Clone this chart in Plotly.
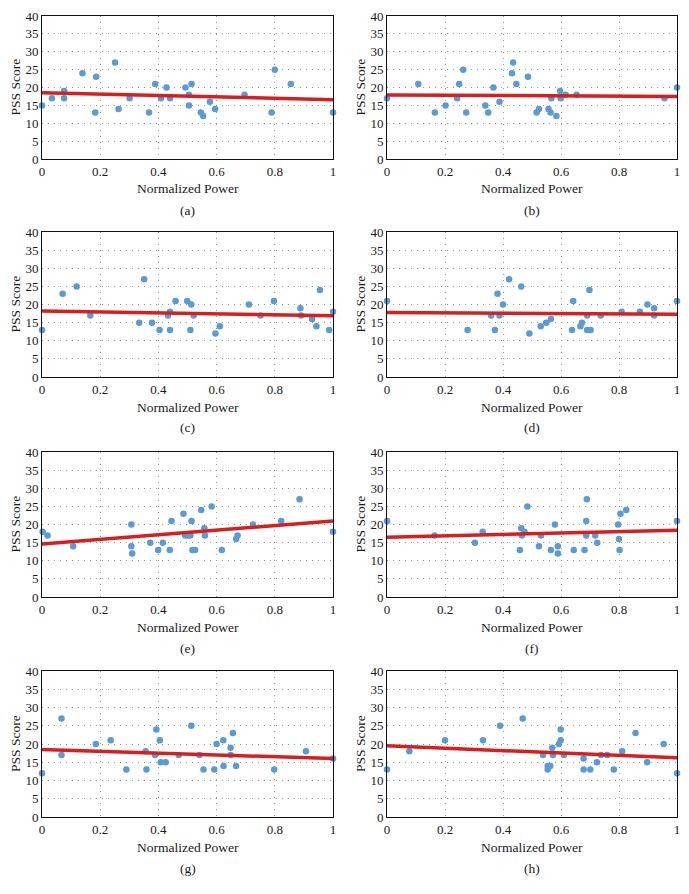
"""PSS score vs normalized power, eight scatter panels with linear fits."""

import plotly.graph_objects as go

X_TICKS = [0, 0.2, 0.4, 0.6, 0.8, 1]
X_TICK_LABELS = ["0", "0.2", "0.4", "0.6", "0.8", "1"]
Y_TICKS = [0, 5, 10, 15, 20, 25, 30, 35, 40]

# (a)
X_A = [0.0, 0.034, 0.076, 0.076, 0.139, 0.183, 0.186, 0.251, 0.263, 0.301,
       0.368, 0.389, 0.409, 0.428, 0.44, 0.493, 0.505, 0.505, 0.514, 0.546,
       0.554, 0.577, 0.595, 0.696, 0.789, 0.8, 0.855, 1.0]
Y_A = [15, 17, 19, 17, 24, 13, 23, 27, 14, 17,
       13, 21, 17, 20, 17, 20, 18, 15, 21, 13,
       12, 16, 14, 18, 13, 25, 21, 13]
FIT_A = [18.5, 16.6]

# (b)
X_B = [0.0, 0.108, 0.165, 0.202, 0.242, 0.249, 0.263, 0.273, 0.339, 0.349,
       0.367, 0.388, 0.431, 0.435, 0.446, 0.486, 0.516, 0.524, 0.557, 0.564,
       0.567, 0.584, 0.597, 0.599, 0.616, 0.654, 0.957, 1.0]
Y_B = [17, 21, 13, 15, 17, 21, 25, 13, 15, 13,
       20, 16, 24, 27, 21, 23, 13, 14, 14, 13,
       17, 12, 19, 17, 18, 18, 17, 20]
FIT_B = [17.9, 17.5]

# (c)
X_C = [0.0, 0.071, 0.119, 0.166, 0.334, 0.351, 0.378, 0.404, 0.433, 0.44,
       0.44, 0.459, 0.499, 0.51, 0.513, 0.521, 0.596, 0.611, 0.711, 0.751,
       0.797, 0.888, 0.89, 0.928, 0.943, 0.955, 0.987, 1.0]
Y_C = [13, 23, 25, 17, 15, 27, 15, 13, 17, 18,
       13, 21, 21, 13, 20, 17, 12, 14, 20, 17,
       21, 19, 17, 16, 14, 24, 13, 18]
FIT_C = [18.2, 16.9]

# (d)
X_D = [0.0, 0.278, 0.359, 0.372, 0.381, 0.388, 0.4, 0.421, 0.463, 0.491,
       0.53, 0.549, 0.565, 0.638, 0.642, 0.667, 0.672, 0.69, 0.69, 0.698,
       0.702, 0.737, 0.809, 0.872, 0.898, 0.921, 0.921, 1.0]
Y_D = [21, 13, 17, 13, 23, 17, 20, 27, 25, 12,
       14, 15, 16, 13, 21, 14, 15, 17, 13, 24,
       13, 17, 18, 18, 20, 19, 17, 21]
FIT_D = [17.8, 17.3]

# (e)
X_E = [0.002, 0.019, 0.107, 0.307, 0.307, 0.31, 0.372, 0.399, 0.415, 0.439,
       0.445, 0.486, 0.492, 0.501, 0.51, 0.514, 0.517, 0.526, 0.547, 0.558,
       0.56, 0.583, 0.618, 0.667, 0.672, 0.725, 0.822, 0.885, 1.0]
Y_E = [18, 17, 14, 20, 14, 12, 15, 13, 15, 13,
       21, 23, 17, 17, 17, 21, 13, 13, 24, 19,
       17, 25, 13, 16, 17, 20, 21, 27, 18]
FIT_E = [14.6, 21.0]

# (f)
X_F = [0.0, 0.164, 0.303, 0.33, 0.458, 0.463, 0.465, 0.474, 0.484, 0.524,
       0.531, 0.565, 0.579, 0.589, 0.589, 0.644, 0.681, 0.687, 0.687, 0.689,
       0.718, 0.725, 0.797, 0.8, 0.802, 0.805, 0.825, 1.0]
Y_F = [21, 17, 15, 18, 13, 19, 17, 18, 25, 14,
       17, 13, 20, 14, 12, 13, 13, 21, 17, 27,
       17, 15, 20, 16, 13, 23, 24, 21]
FIT_F = [16.5, 18.4]

# (g)
X_G = [0.0, 0.067, 0.067, 0.185, 0.236, 0.29, 0.356, 0.359, 0.388, 0.393,
       0.405, 0.408, 0.425, 0.47, 0.513, 0.541, 0.555, 0.592, 0.6, 0.623,
       0.624, 0.648, 0.648, 0.656, 0.667, 0.798, 0.907, 1.0]
Y_G = [12, 27, 17, 20, 21, 13, 18, 13, 17, 24,
       21, 15, 15, 17, 25, 17, 13, 13, 20, 21,
       14, 19, 17, 23, 14, 13, 18, 16]
FIT_G = [18.5, 16.0]

# (h)
X_H = [0.0, 0.077, 0.2, 0.331, 0.39, 0.468, 0.538, 0.554, 0.554, 0.563,
       0.57, 0.572, 0.593, 0.599, 0.599, 0.61, 0.678, 0.678, 0.701, 0.724,
       0.738, 0.759, 0.782, 0.811, 0.857, 0.897, 0.954, 1.0]
Y_H = [13, 18, 21, 21, 25, 27, 17, 14, 13, 14,
       19, 17, 20, 21, 24, 17, 16, 13, 13, 15,
       17, 17, 13, 18, 23, 15, 20, 12]
FIT_H = [19.5, 16.2]

PANELS = [
    ("(a)", X_A, Y_A, FIT_A),
    ("(b)", X_B, Y_B, FIT_B),
    ("(c)", X_C, Y_C, FIT_C),
    ("(d)", X_D, Y_D, FIT_D),
    ("(e)", X_E, Y_E, FIT_E),
    ("(f)", X_F, Y_F, FIT_F),
    ("(g)", X_G, Y_G, FIT_G),
    ("(h)", X_H, Y_H, FIT_H),
]

# page body has an 8px margin, so the figure is shrunk and coords shifted by it
PAGE_PAD = 8
W, H = 689 - 2 * PAGE_PAD, 894 - 2 * PAGE_PAD
COL_X = [(42, 333), (387, 677)]          # plot left/right, page px
ROW_Y = [(16, 159), (232, 377), (452, 597), (671, 817)]  # plot top/bottom, page px


def px_x(p):
    return (p - PAGE_PAD) / W


def px_y(p):
    return 1 - (p - PAGE_PAD) / H


FONT = "Liberation Serif, Times New Roman, DejaVu Serif, serif"
DOT_COLOR = "#5b9bd5"
FIT_COLOR = "#d81e1e"
TEXT_COLOR = "#1a1a1a"

fig = go.Figure()
annotations = []

for i, (label, xs, ys, fit) in enumerate(PANELS):
    row, col = divmod(i, 2)
    n = i + 1
    xa = "x" if n == 1 else f"x{n}"
    ya = "y" if n == 1 else f"y{n}"
    x0, x1 = COL_X[col]
    top, bot = ROW_Y[row]

    fig.add_trace(go.Scatter(
        x=xs, y=ys, mode="markers", xaxis=xa, yaxis=ya,
        marker=dict(size=6.5, color=DOT_COLOR),
        cliponaxis=False, showlegend=False,
    ))
    fig.add_trace(go.Scatter(
        x=[0, 1], y=fit, mode="lines", xaxis=xa, yaxis=ya,
        line=dict(color=FIT_COLOR, width=3.5),
        showlegend=False,
    ))

    axis_common = dict(
        showline=True, mirror=True, linecolor="#111", linewidth=1,
        showgrid=True, gridcolor="#999", gridwidth=1, griddash="1px,5px",
        zeroline=False, ticks="", automargin=False,
        tickfont=dict(family=FONT, size=13, color=TEXT_COLOR),
    )
    fig.layout[f"xaxis{'' if n == 1 else n}"] = dict(
        axis_common, domain=[px_x(x0), px_x(x1)], anchor=ya, range=[0, 1],
        tickvals=X_TICKS, ticktext=X_TICK_LABELS, ticklabeloverflow="allow",
    )
    fig.layout[f"yaxis{'' if n == 1 else n}"] = dict(
        axis_common, domain=[px_y(bot), px_y(top)], anchor=xa, range=[0, 40],
        tickvals=Y_TICKS,
    )

    cx = px_x((x0 + x1) / 2)
    text_font = dict(family=FONT, size=13.5, color=TEXT_COLOR)
    annotations.append(dict(
        text="Normalized Power", x=cx, y=px_y(bot + 30),
        xanchor="center", yanchor="middle", font=text_font,
    ))
    annotations.append(dict(
        text=label, x=cx, y=px_y(bot + 51),
        xanchor="center", yanchor="middle", font=text_font,
    ))
    annotations.append(dict(
        text="PSS Score", x=px_x(x0 - 27), y=px_y((top + bot) / 2),
        xanchor="center", yanchor="middle", textangle=-90, font=text_font,
    ))

for a in annotations:
    a.update(xref="paper", yref="paper", showarrow=False)

fig.update_layout(
    width=W, height=H,
    margin=dict(l=0, r=0, t=0, b=0),
    paper_bgcolor="white", plot_bgcolor="white",
    font=dict(family=FONT),
    annotations=annotations,
)

fig.write_html("out.html")
